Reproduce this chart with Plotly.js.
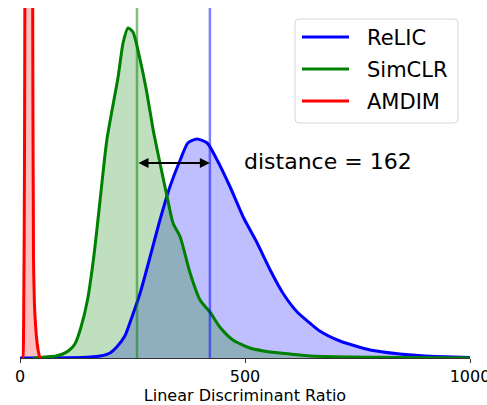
<!DOCTYPE html>
<html>
<head>
<meta charset="utf-8">
<script src="https://cdn.plot.ly/plotly-3.0.1.min.js"></script>
<style>html,body{margin:0;padding:0;background:#fff;}#chart{width:487px;height:405px;}</style>
</head>
<body>
<div id="chart"></div>
<script>
// ReLIC
var relicX = [0,111,156,178,200,215,233,244,267,289,311,333,356,373,393,416,438,467,496,527,556,584,616,644,666,711,778,844,900,1000];
var relicY = [0,0.3,1,2,5,11,22,35,65,101,138,171,198,215,219,215,198,171,141,115,88,65,46,35,27,17,8,4,2,0.5];
// SimCLR
var simclrX = [29,56,80,95,110,122,135,150,165,178,193,218,229,240,251,267,282,296,311,327,340,356,378,400,422,444,473,511,556,600,644,733,844,1000];
var simclrY = [0,1,2,4,8,14,30,58,105,158,218,281,315,330,326,298,265,228,195,161,135,121,85,58,46,31,18,10,6,4,2,1,0.5,0];
// AMDIM
var amdimX = [4,6,8,10,11,13,16,20,24,27,28,30,32,35,38,41,44,47];
var amdimY = [0,0,30,200,400,900,1500,1800,1300,700,400,100,55,30,15,6,1,0];

var names = ["ReLIC","SimCLR","AMDIM"];
var colors = ["#0000ff","#008000","#ff0000"];
var fills = ["rgba(0,0,255,0.25)","rgba(0,128,0,0.25)","rgba(255,0,0,0.25)"];
var means = [422, 260];
var vlineColors = ["rgba(0,0,255,0.5)","rgba(0,128,0,0.5)"];
var distanceLabel = "distance = 162";
var arrowY = 195;
var tickVals = [0, 500, 1000];
var xTitle = "Linear Discriminant Ratio";

var W = 487, H = 405, ML = 20, MR = 17, MT = 8, MB = 47;
var PW = W - ML - MR, PH = H - MT - MB;
function px(x){ return (x - ML) / PW; }
function py(y){ return (H - MB - y) / PH; }

var xs = [relicX, simclrX, amdimX];
var ys = [relicY, simclrY, amdimY];
var traces = [];
for (var i = 0; i < 3; i++) {
  traces.push({x: xs[i], y: ys[i], type: "scatter", mode: "lines", fill: "tozeroy",
    fillcolor: fills[i], line: {width: 0, color: fills[i], shape: "spline", smoothing: 0.6},
    showlegend: false, hoverinfo: "skip"});
}
for (var i = 0; i < 3; i++) {
  traces.push({x: xs[i], y: ys[i], type: "scatter", mode: "lines", name: names[i],
    showlegend: false,
    line: {width: 3, color: colors[i], shape: "spline", smoothing: 0.6}});
}

var shapes = means.map(function(m, k){
  return {type: "line", xref: "x", yref: "paper", x0: m, x1: m, y0: 0, y1: 1,
    line: {color: vlineColors[k], width: 2.5}, layer: "above"};
});

// manual legend (matplotlib style)
var bx0 = 295, bx1 = 458, by0 = 19, by1 = 123, r = 4;
var rx = r / PW, ry = r / PH;
var X0 = px(bx0), X1 = px(bx1), Y0 = py(by1), Y1 = py(by0);
shapes.push({type: "path", xref: "paper", yref: "paper", layer: "above",
  path: "M" + (X0+rx) + "," + Y0 + " L" + (X1-rx) + "," + Y0 + " Q" + X1 + "," + Y0 + " " + X1 + "," + (Y0+ry) +
        " L" + X1 + "," + (Y1-ry) + " Q" + X1 + "," + Y1 + " " + (X1-rx) + "," + Y1 +
        " L" + (X0+rx) + "," + Y1 + " Q" + X0 + "," + Y1 + " " + X0 + "," + (Y1-ry) +
        " L" + X0 + "," + (Y0+ry) + " Q" + X0 + "," + Y0 + " " + (X0+rx) + "," + Y0 + " Z",
  fillcolor: "rgba(255,255,255,0.8)", line: {color: "#d6d6d6", width: 1}});
var annotations = [
  {x: means[0], y: arrowY, ax: means[1], ay: arrowY, xref: "x", yref: "y", axref: "x", ayref: "y",
   text: "", showarrow: true, arrowside: "end+start", arrowhead: 2, arrowsize: 1, arrowwidth: 2, arrowcolor: "#000"},
  {x: 494, y: arrowY + 2, xref: "x", yref: "y", text: distanceLabel, showarrow: false,
   xanchor: "left", yanchor: "middle", font: {size: 22}}
];
var rowY = [37, 69, 101];
for (var i = 0; i < 3; i++) {
  shapes.push({type: "line", xref: "paper", yref: "paper", layer: "above",
    x0: px(302), x1: px(349), y0: py(rowY[i]), y1: py(rowY[i]),
    line: {color: colors[i], width: 3}});
  annotations.push({xref: "paper", yref: "paper", x: px(365), y: py(rowY[i] + 1),
    text: names[i], showarrow: false, xanchor: "left", yanchor: "middle", font: {size: 21}});
}

var layout = {
  width: W, height: H,
  margin: {l: ML, r: MR, t: MT, b: MB},
  paper_bgcolor: "#fff", plot_bgcolor: "#fff",
  font: {family: "DejaVu Sans", color: "#000"},
  xaxis: {range: [0, 1000], tickvals: tickVals, ticktext: tickVals.map(String),
    showgrid: false, zeroline: false, showline: true, linecolor: "#333", linewidth: 1,
    ticks: "outside", ticklen: 4, tickcolor: "#333", tickfont: {size: 16},
    ticklabeloverflow: "allow",
    title: {text: xTitle, font: {size: 16}, standoff: 4}},
  yaxis: {range: [0, 350], visible: false, fixedrange: true},
  showlegend: false,
  shapes: shapes,
  annotations: annotations
};
Plotly.newPlot("chart", traces, layout, {staticPlot: true});
</script>
</body>
</html>
